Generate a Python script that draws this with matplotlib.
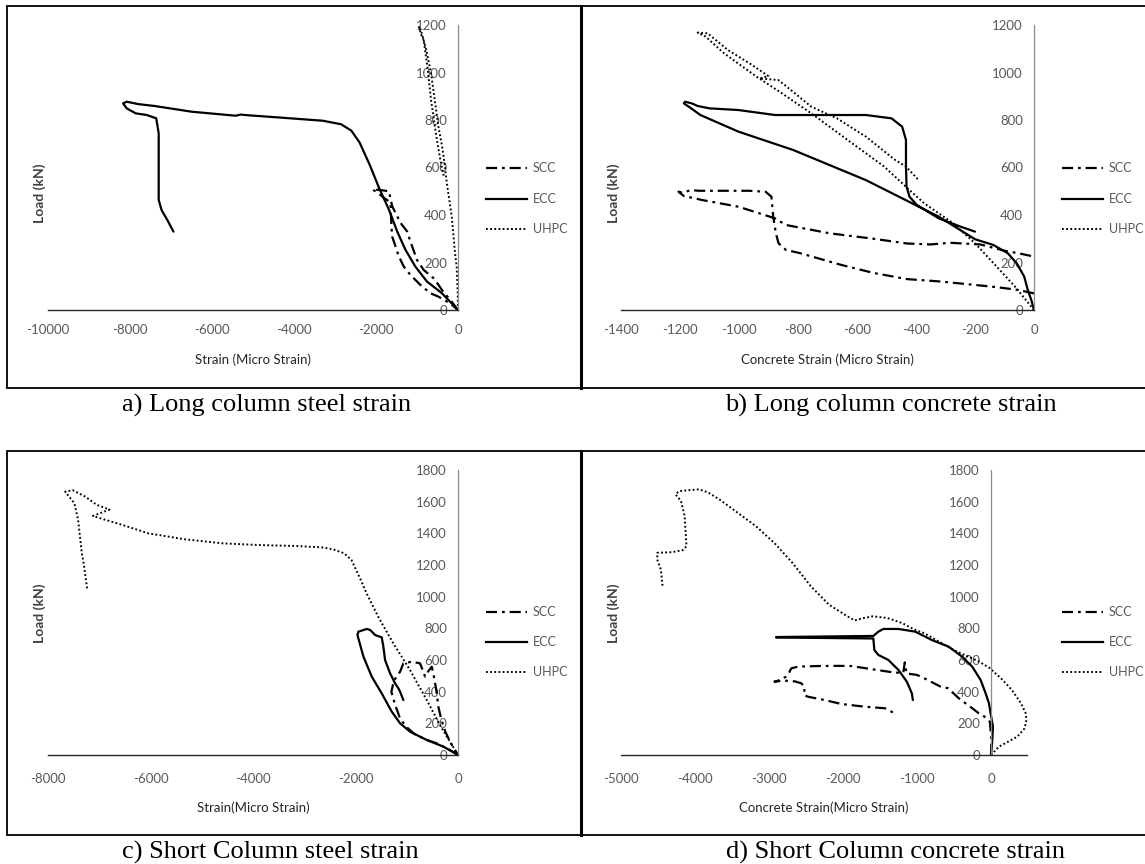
import matplotlib
matplotlib.use('Agg')
import matplotlib.pyplot as plt
from matplotlib.lines import Line2D
from matplotlib.patches import Rectangle

plt.rcParams['lines.scale_dashes'] = False

# ---------------- data ----------------
# a) Long column steel strain
a_scc_x = [0, -153, -395, -476, -597, -839, -1000, -1162, -1242, -1403, -1605, -1686, -1847, -2089,
           -1990, -1904, -1807, -1686, -1645, -1621, -1605, -1525, -1444, -1323, -1162, -920, -678, -476, -194, 0]
a_scc_y = [0, 35, 85, 106, 134, 169, 211, 289, 331, 367, 437, 500, 504, 508,
           497, 486, 472, 458, 437, 346, 309, 268, 226, 183, 148, 106, 71, 56, 28, 0]
a_ecc_x = [0, -395, -758, -1041, -1283, -1484, -1686, -1928, -2150, -2400, -2600, -2850, -3300, -4400,
           -5200, -5300, -5420, -6500, -7400, -7800, -8080, -8170, -8080, -7860, -7590, -7360, -7300,
           -7300, -7300, -7230, -7090, -6940]
a_ecc_y = [0, 71, 120, 183, 254, 331, 423, 515, 610, 705, 755, 782, 797, 811,
           821, 823, 818, 835, 859, 867, 877, 870, 849, 828, 821, 807, 744,
           604, 463, 421, 379, 330]
a_uhpc_x = [0, -7, -32, -73, -153, -274, -330, -387, -477, -567, -657, -774, -882, -960,
            -900, -837, -747, -657, -540, -432, -342]
a_uhpc_y = [0, 72, 183, 240, 395, 536, 620, 688, 772, 884, 997, 1095, 1165, 1195,
            1160, 1137, 1025, 884, 744, 632, 560]

# b) Long column concrete strain
b_scc_x = [0, -57, -125, -204, -317, -430, -544, -657, -792, -841, -866, -875, -884, -890, -910,
           -965, -1063, -1137, -1162, -1193, -1205, -1187, -1150, -1125, -1002, -878, -841, -693,
           -544, -430, -351, -284, -182, -91, -57, 0]
b_scc_y = [70, 85, 96, 106, 120, 130, 156, 191, 239, 253, 281, 323, 393, 477, 498,
           502, 502, 502, 505, 494, 498, 480, 470, 463, 435, 386, 358, 323,
           300, 280, 276, 283, 276, 247, 240, 225]
b_ecc_x = [0, -9, -21, -33, -58, -89, -138, -200, -323, -570, -817, -1002, -1131, -1162, -1187,
           -1183, -1160, -1140, -1100, -1002, -878, -755, -570, -483, -447, -434, -434, -432,
           -422, -397, -323, -249, -200]
b_ecc_y = [0, 42, 84, 140, 196, 239, 274, 298, 393, 547, 674, 751, 821, 849, 870,
           877, 870, 859, 849, 842, 821, 821, 821, 807, 772, 716, 604, 519,
           477, 442, 386, 351, 330]
b_uhpc_x = [0, -64, -126, -200, -274, -372, -422, -508, -632, -755, -854, -940, -1051, -1113,
            -1140, -1106, -1038, -960, -900, -930, -866, -817, -755, -668, -570, -471, -434, -391]
b_uhpc_y = [0, 98, 182, 281, 365, 449, 505, 604, 716, 828, 912, 982, 1081, 1151,
            1168, 1165, 1095, 1035, 985, 975, 968, 919, 856, 807, 730, 632, 604, 547]

# c) Short column steel strain
c_scc_x = [0, -150, -415, -610, -838, -1000, -1130, -1230, -1300, -1250, -1130, -1066, -903, -741,
           -676, -643, -600, -513, -481, -440, -415, -383, -330, -250, -150, 0]
c_scc_y = [0, 30, 74, 95, 130, 175, 230, 320, 400, 470, 526, 579, 589, 579,
           526, 495, 520, 558, 516, 440, 389, 305, 230, 150, 80, 0]
c_ecc_x = [0, -286, -610, -935, -1130, -1293, -1488, -1683, -1845, -1962, -1943, -1780, -1715,
           -1618, -1488, -1456, -1423, -1325, -1228, -1163, -1130, -1066]
c_ecc_y = [0, 53, 95, 147, 200, 274, 389, 495, 621, 758, 779, 796, 790,
           758, 743, 684, 600, 516, 453, 421, 400, 347]
c_uhpc_x = [0, -351, -610, -935, -1261, -1553, -1780, -1896, -2077, -2221, -2437, -2653, -3158,
            -3879, -4600, -5321, -6042, -6547, -6979, -7123, -6800, -7050, -7268, -7520, -7664,
            -7484, -7412, -7376, -7340, -7304, -7268, -7232]
c_uhpc_y = [0, 189, 347, 536, 704, 871, 1018, 1105, 1231, 1274, 1299, 1311, 1320,
            1326, 1337, 1362, 1400, 1453, 1495, 1510, 1550, 1580, 1631, 1673, 1663,
            1589, 1484, 1379, 1274, 1210, 1126, 1042]

# d) Short column concrete strain
d_scc_x = [0, 5, -15, -114, -163, -311, -410, -583, -682, -904, -1003, -1141, -1165, -1185, -1300,
           -1398, -1694, -1892, -2090, -2337, -2609, -2700, -2722, -2768, -2881, -2926, -2800,
           -2650, -2564, -2518, -2527, -2473, -2246, -2021, -1703, -1431, -1318]
d_scc_y = [0, 100, 210, 253, 263, 316, 348, 422, 432, 485, 506, 515, 585, 520, 520,
           527, 548, 562, 563, 562, 558, 547, 526, 495, 469, 463, 470,
           465, 453, 432, 379, 368, 347, 322, 305, 295, 267]
d_ecc_x = [0, 18, 27, -5, -27, -72, -140, -254, -390, -571, -798, -1023, -1250, -1454, -1522,
           -1590, -2904, -2904, -1590, -1576, -1522, -1386, -1250, -1137, -1069, -1056]
d_ecc_y = [0, 95, 179, 263, 326, 389, 474, 558, 621, 684, 726, 779, 796, 796, 779,
           752, 745, 742, 736, 663, 632, 600, 537, 463, 389, 347]
d_uhpc_x = [0, 109, 356, 454, 479, 469, 405, 282, 158, -15, -163, -311, -509, -706, -904, -1028,
            -1200, -1398, -1596, -1719, -1843, -1941, -2188, -2435, -2682, -2929, -3176, -3423,
            -3670, -3819, -3942, -4066, -4214, -4263, -4189, -4140, -4115, -4164, -4312, -4510,
            -4510, -4461, -4436]
d_uhpc_y = [0, 53, 116, 168, 221, 263, 327, 411, 474, 548, 591, 622, 664, 717, 770, 791,
            833, 865, 876, 865, 850, 876, 949, 1066, 1213, 1340, 1445, 1530,
            1614, 1657, 1678, 1673, 1667, 1646, 1604, 1509, 1319, 1294, 1281, 1277,
            1234, 1171, 1055]

series_names = ['SCC', 'ECC', 'UHPC']
xlabels = ['Strain (Micro Strain)', 'Concrete Strain (Micro Strain)',
           'Strain(Micro Strain)', 'Concrete Strain(Micro Strain)']
captions = ['a) Long column steel strain', 'b) Long column concrete strain',
            'c) Short Column steel strain', 'd) Short Column concrete strain']
ylabel = 'Load (kN)'
xticks_list = [list(range(-10000, 1, 2000)), list(range(-1400, 1, 200)),
               list(range(-8000, 1, 2000)), list(range(-5000, 1, 1000))]
yticks_list = [list(range(0, 1201, 200)), list(range(0, 1201, 200)),
               list(range(0, 1801, 200)), list(range(0, 1801, 200))]
xlims = [(-10000, 0), (-1400, 0), (-8000, 0), (-5000, 480)]
ylims = [(0, 1200), (0, 1200), (0, 1800), (0, 1800)]

panels = [
    [(a_scc_x, a_scc_y), (a_ecc_x, a_ecc_y), (a_uhpc_x, a_uhpc_y)],
    [(b_scc_x, b_scc_y), (b_ecc_x, b_ecc_y), (b_uhpc_x, b_uhpc_y)],
    [(c_scc_x, c_scc_y), (c_ecc_x, c_ecc_y), (c_uhpc_x, c_uhpc_y)],
    [(d_scc_x, d_scc_y), (d_ecc_x, d_ecc_y), (d_uhpc_x, d_uhpc_y)],
]

# ---------------- layout ----------------
W, H = 1145, 864
fig = plt.figure(figsize=(W / 100, H / 100), dpi=100)
SANS = ['Lato', 'DejaVu Sans']
SERIF = ['Liberation Serif', 'DejaVu Serif']
GRAY = '#595959'

def fx(px):
    return px / W

def fy(py):
    return 1 - py / H

styles = [
    dict(color='black', lw=1.6, linestyle=(0, (8, 3.5, 2, 3.5))),
    dict(color='black', lw=1.6, linestyle='-'),
    dict(color='black', lw=1.4, linestyle=(0, (1.3, 1.7))),
]

# pixel boxes of the data areas: (x_left, x_right, y_top, y_bottom)
boxes = [(48, 458, 25, 310), (621, 1034, 25, 310), (48, 458, 470, 755), (621, 1026.5, 470, 755)]
frame_left = [7, 581, 7, 581]
frame_rows = [(6, 388), (6, 388), (451, 835), (451, 835)]
legend_x = [486, 1062, 486, 1062]
legend_rows = [(168, 199, 229), (168, 199, 229), (612, 642, 672), (612, 642, 672)]
tick_pad = [10, 10, 13, 13]
xlabel_off = [50, 50, 53, 53]
ylabel_y = [193, 193, 613, 613]
caption_pos = [(267, 405), (891, 405), (270, 852), (895, 852)]

for i in range(4):
    xl, xr, yt, yb = boxes[i]
    ax = fig.add_axes([fx(xl), fy(yb), (xr - xl) / W, (yb - yt) / H])
    ax.set_facecolor('none')
    for (x, y), st in zip(panels[i], styles):
        ax.plot(x, y, clip_on=False, solid_capstyle='round', dash_capstyle='butt', **st)
    ax.set_xlim(*xlims[i])
    ax.set_ylim(*ylims[i])
    ax.spines['top'].set_visible(False)
    ax.spines['right'].set_visible(False)
    ax.spines['left'].set_position(('data', 0))
    ax.spines['left'].set_color('#8c8c8c')
    ax.spines['left'].set_linewidth(0.9)
    ax.spines['bottom'].set_color('#262626')
    ax.spines['bottom'].set_linewidth(1.0)
    ax.set_xticks(xticks_list[i])
    ax.set_yticks(yticks_list[i])
    ax.set_xticklabels([str(v) for v in xticks_list[i]])
    ax.set_yticklabels([str(v) for v in yticks_list[i]])
    ax.tick_params(axis='both', length=0, labelsize=9.5, labelcolor=GRAY)
    ax.tick_params(axis='x', pad=tick_pad[i])
    ax.tick_params(axis='y', pad=8)
    for lab in ax.get_xticklabels() + ax.get_yticklabels():
        lab.set_family(SANS)

    # axis titles
    fig.text(fx((xl + xr) / 2), fy(yb + xlabel_off[i]), xlabels[i], ha='center', va='center',
             fontsize=9.5, color='#262626', family=SANS)
    fig.text(fx(frame_left[i] + 33), fy(ylabel_y[i]), ylabel, ha='center', va='center',
             rotation=90, fontsize=10, fontweight='bold', color='#404040', family=SANS)

    # legend
    lx = legend_x[i]
    for name, st, ry in zip(series_names, styles, legend_rows[i]):
        fig.add_artist(Line2D([fx(lx), fx(lx + 41)], [fy(ry), fy(ry)], transform=fig.transFigure,
                              dash_capstyle='butt', **st))
        fig.text(fx(lx + 47), fy(ry), name, ha='left', va='center', fontsize=9,
                 color=GRAY, family=SANS)

    # frame
    top, bot = frame_rows[i]
    fl = frame_left[i]
    fig.add_artist(Rectangle((fx(fl), fy(bot)), (1160 - fl) / W if i % 2 else (581 - fl) / W,
                             (bot - top) / H, transform=fig.transFigure, fill=False,
                             lw=1.3, ec='black'))
    # caption
    cx, cy = caption_pos[i]
    fig.text(fx(cx), fy(cy), captions[i], ha='center', va='center', fontsize=19,
             color='black', family=SERIF)

# thick dividers between the panels
for top, bot in [(6, 388), (451, 835)]:
    fig.add_artist(Line2D([fx(581), fx(581)], [fy(top), fy(bot)], transform=fig.transFigure,
                          color='black', lw=2.2))

fig.savefig('out.png', dpi=100)
